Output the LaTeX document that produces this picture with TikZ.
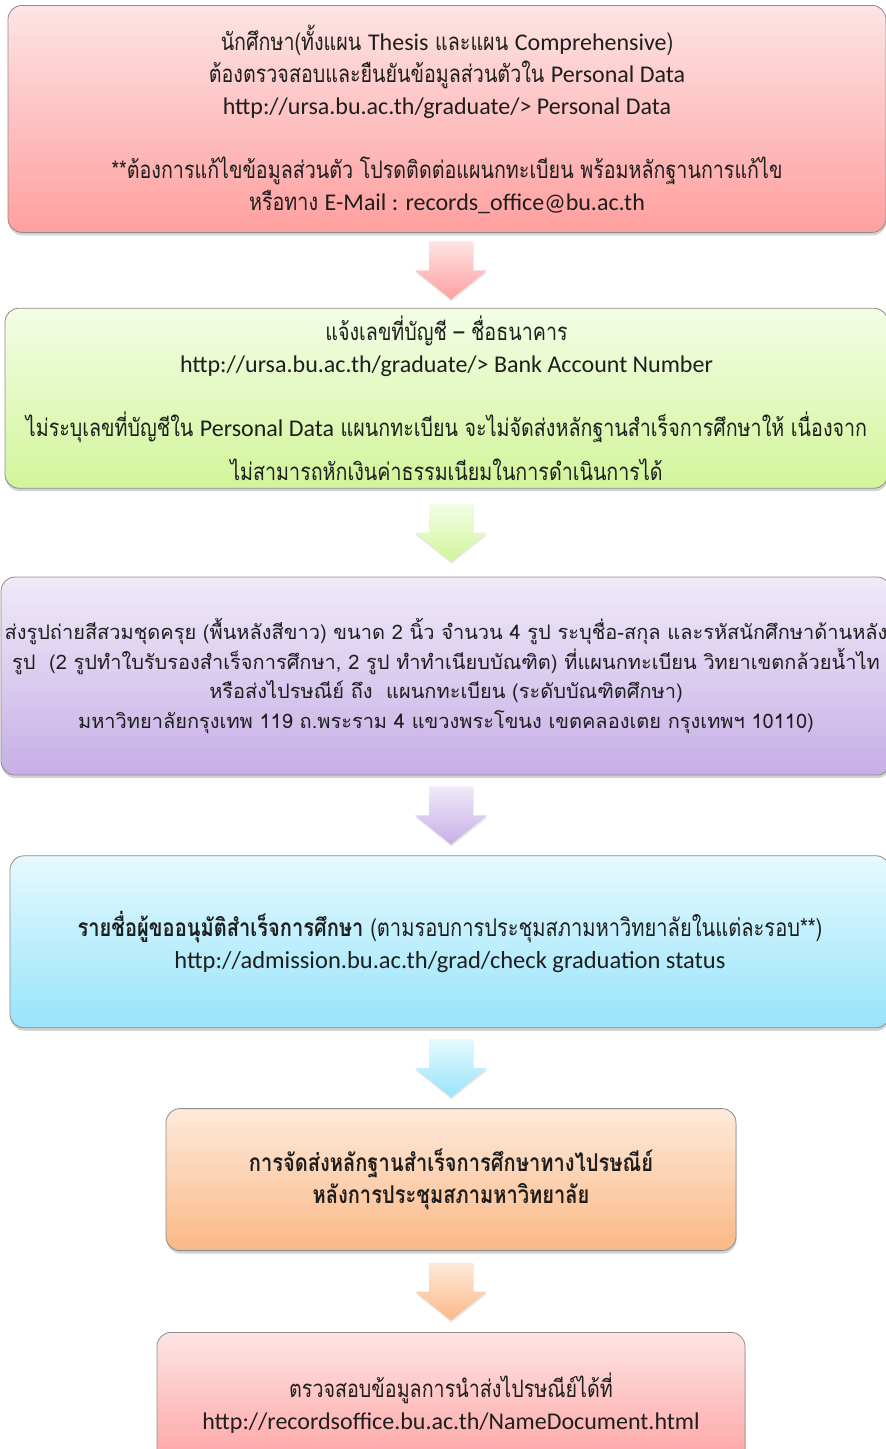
\documentclass[tikz,border=0pt]{standalone}
\usepackage{fontspec}
\setmainfont{Carlito}
\newfontfamily\thai[Script=Thai,FakeStretch=0.82]{Loma}
\newfontfamily\thaiwide[Script=Thai]{Loma}
\newcommand\en[1]{{\rmfamily #1}}
\usepackage{tikz}
\usetikzlibrary{positioning,shadows,calc}

\definecolor{pinktop}{HTML}{FDE4E4}
\definecolor{pinkbot}{HTML}{FF9F9F}
\definecolor{greentop}{HTML}{F3FDE6}
\definecolor{greenbot}{HTML}{D2F59A}
\definecolor{violettop}{HTML}{F0EAF9}
\definecolor{violetbot}{HTML}{C6AFE6}
\definecolor{bluetop}{HTML}{E6F9FE}
\definecolor{bluebot}{HTML}{97E4FB}
\definecolor{orangetop}{HTML}{FDEADB}
\definecolor{orangebot}{HTML}{FBB886}
\definecolor{textgrey}{HTML}{1E1E1E}

\tikzstyle{stepbox}=[rectangle, draw=black!45, line width=0.8pt, rounded corners=14pt,
        drop shadow={shadow xshift=0.5pt, shadow yshift=-3pt, opacity=0.35},
        align=center, anchor=north, text=textgrey, inner sep=0pt,
        font=\thai\fontsize{24}{32}\selectfont]
\tikzstyle{downarrow}=[draw=none,
        drop shadow={shadow xshift=0.5pt, shadow yshift=-2pt, opacity=0.2}]
\tikzstyle{pinkshade}=[top color=pinktop, bottom color=pinkbot]
\tikzstyle{greenshade}=[top color=greentop, bottom color=greenbot]
\tikzstyle{violetshade}=[top color=violettop, bottom color=violetbot]
\tikzstyle{blueshade}=[top color=bluetop, bottom color=bluebot]
\tikzstyle{orangeshade}=[top color=orangetop, bottom color=orangebot]

\begin{document}
\begin{tikzpicture}[x=1pt, y=-1pt, node distance=75pt]
        \useasboundingbox (0,0) rectangle (886,1449);
        \clip (0,0) rectangle (886,1449);

        \node (Student) [stepbox, pinkshade, minimum width=878pt, minimum height=227pt] at (447,5)
        {
          นักศึกษา(ทั้งแผน \en{Thesis} และแผน \en{Comprehensive})\\
          ต้องตรวจสอบและยืนยันข้อมูลส่วนตัวใน \en{Personal Data}\\
          \en{http://ursa.bu.ac.th/graduate/> Personal Data}\\[32pt]
          **ต้องการแก้ไขข้อมูลส่วนตัว โปรดติดต่อแผนกทะเบียน พร้อมหลักฐานการแก้ไข\\
          หรือทาง \en{E-Mail : records\_office@bu.ac.th}
        };
        \node (Bank) [stepbox, greenshade, minimum width=883pt, minimum height=180pt, below=of Student, xshift=-0.5pt]
        {
          แจ้งเลขที่บัญชี – ชื่อธนาคาร\\
          \en{http://ursa.bu.ac.th/graduate/> Bank Account Number}\\[32pt]
          ไม่ระบุเลขที่บัญชีใน \en{Personal Data} แผนกทะเบียน จะไม่จัดส่งหลักฐานสำเร็จการศึกษาให้ เนื่องจาก\\[12pt]
          ไม่สามารถหักเงินค่าธรรมเนียมในการดำเนินการได้
        };
        \node (Photo) [stepbox, violetshade, minimum width=890pt, minimum height=198pt, below=88pt of Bank, xshift=-0.5pt,
                       font=\thaiwide\fontsize{20}{29.5}\selectfont]
        {
          ส่งรูปถ่ายสีสวมชุดครุย (พื้นหลังสีขาว) ขนาด 2 นิ้ว จำนวน 4 รูป ระบุชื่อ-สกุล และรหัสนักศึกษาด้านหลัง\\
          รูป~~(2 รูปทำใบรับรองสำเร็จการศึกษา, 2 รูป ทำทำเนียบบัณฑิต) ที่แผนกทะเบียน วิทยาเขตกล้วยน้ำไท\\
          หรือส่งไปรษณีย์ ถึง~~แผนกทะเบียน (ระดับบัณฑิตศึกษา)\\
          มหาวิทยาลัยกรุงเทพ 119 ถ.พระราม 4 แขวงพระโขนง เขตคลองเตย กรุงเทพฯ 10110)
        };
        \node (Approval) [stepbox, blueshade, minimum width=880pt, minimum height=172pt, below=80pt of Photo, xshift=4pt,
                          font=\thai\fontsize{24.5}{32}\selectfont]
        {
          \textbf{รายชื่อผู้ขออนุมัติสำเร็จการศึกษา} (ตามรอบการประชุมสภามหาวิทยาลัยในแต่ละรอบ**)\\
          \en{http://admission.bu.ac.th/grad/check graduation status}
        };
        \node (Mailing) [stepbox, orangeshade, minimum width=570pt, minimum height=142pt, below=80pt of Approval, xshift=1pt,
                         font=\thai\fontsize{24.5}{32}\selectfont]
        {
          \bfseries การจัดส่งหลักฐานสำเร็จการศึกษาทางไปรษณีย์\\
          \bfseries หลังการประชุมสภามหาวิทยาลัย
        };
        \node (Tracking) [stepbox, pinkshade, minimum width=588pt, minimum height=142pt, below=81pt of Mailing]
        {
          ตรวจสอบข้อมูลการนำส่งไปรษณีย์ได้ที่\\
          \en{http://recordsoffice.bu.ac.th/NameDocument.html}
        };

        % block arrows between the steps
        \foreach \from/\to/\tint in {Student/Bank/pink, Bank/Photo/green, Photo/Approval/violet,
                                     Approval/Mailing/blue, Mailing/Tracking/orange}
        {
          \coordinate (\from-\to) at ($(\from.south)!0.5!(\to.north)$);
          \path[downarrow, \tint shade] (\from-\to -| Mailing.center) ++(-22,-29) -- ++(44,0) -- ++(0,29)
                -- ++(14,0) -- ++(-36,29) -- ++(-36,-29) -- ++(14,0) -- cycle;
        }
\end{tikzpicture}
\end{document}
